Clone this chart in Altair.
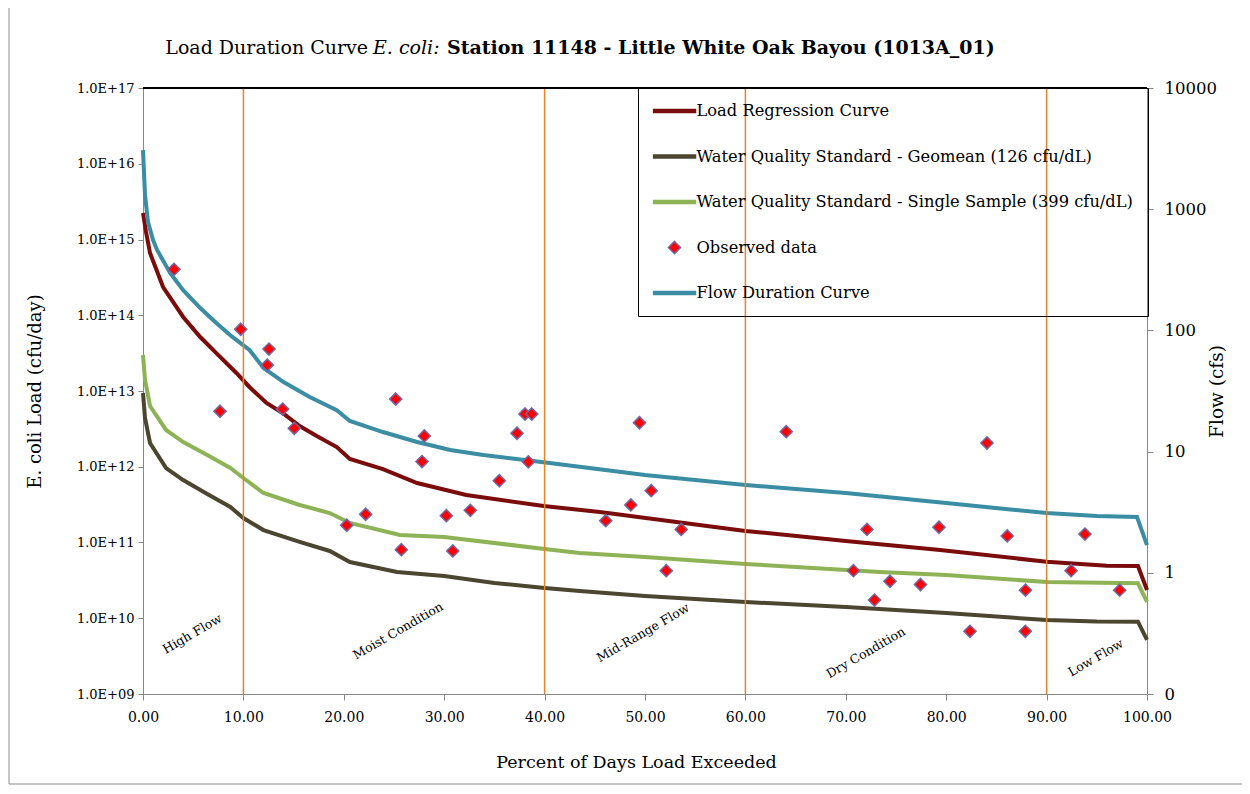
import altair as alt
import pandas as pd

# ---------------- data ----------------
SERIES = [
    "Load Regression Curve",
    "Water Quality Standard - Geomean (126 cfu/dL)",
    "Water Quality Standard - Single Sample (399 cfu/dL)",
    "Observed data",
    "Flow Duration Curve",
]

# Load regression curve (cfu/day)
pct_reg = [0, 0.3, 0.7, 2.0, 4.0, 5.7, 7.3, 9.3, 10.6, 12.3, 13.9, 15.6, 17.3, 19.3,
           20.6, 23.9, 27.3, 32.2, 39.9, 45.5, 60.0, 70.0, 79.4, 90.0, 96.0, 99.1, 100]
load_reg = [2.24e15, 1.26e15, 6.63e14, 2.36e14, 9.49e13, 5.16e13, 3.17e13, 1.73e13,
            1.13e13, 6.95e12, 5.13e12, 3.45e12, 2.55e12, 1.82e12, 1.27e12, 9.33e11,
            6.10e11, 4.24e11, 3.03e11, 2.53e11, 1.42e11, 1.05e11, 7.96e10, 5.57e10,
            4.94e10, 4.90e10, 2.36e10]

# Water quality standard - geomean (cfu/day)
pct_gm = [0, 0.2, 0.7, 2.3, 4.0, 6.4, 8.7, 10.0, 12.0, 15.6, 18.6, 20.6, 25.3, 30.0,
          35.0, 40.0, 43.5, 50.0, 60.0, 70.0, 80.0, 90.0, 95.0, 99.1, 100]
load_gm = [9.42e12, 4.40e12, 2.06e12, 9.62e11, 6.68e11, 4.37e11, 2.94e11, 2.10e11,
           1.46e11, 1.02e11, 7.73e10, 5.53e10, 4.08e10, 3.61e10, 2.92e10, 2.51e10,
           2.29e10, 1.97e10, 1.64e10, 1.41e10, 1.17e10, 9.48e9, 9.06e9, 9.02e9, 5.17e9]

# Water quality standard - single sample (cfu/day)
pct_ss = [0, 0.2, 0.7, 2.3, 4.0, 6.4, 8.7, 10.0, 12.0, 15.6, 18.6, 20.6, 25.6, 30.0,
          40.0, 43.5, 50.0, 60.0, 73.4, 80.0, 90.0, 99.1, 100]
load_ss = [2.99e13, 1.40e13, 6.34e12, 3.06e12, 2.12e12, 1.43e12, 9.62e11, 7.10e11,
           4.50e11, 3.13e11, 2.45e11, 1.81e11, 1.26e11, 1.18e11, 8.21e10, 7.27e10,
           6.44e10, 5.20e10, 4.08e10, 3.72e10, 3.01e10, 2.89e10, 1.64e10]

# Flow duration curve (cfs, right axis)
pct_flow = [0, 0.2, 0.5, 1.0, 1.4, 2.7, 4.0, 5.7, 7.3, 8.9, 10.6, 12.0, 14.0, 16.6,
            19.3, 20.6, 23.9, 27.3, 30.6, 33.9, 37.2, 40.5, 50, 60, 65, 70, 80, 90,
            95, 99, 100]
flow_cfs = [3077, 1309, 784, 557, 461, 298, 215, 153, 115, 88.3, 69.0, 49.0, 37.5,
            28.2, 22.0, 17.9, 14.5, 12.0, 10.3, 9.37, 8.68, 8.05, 6.41, 5.30, 4.91,
            4.55, 3.76, 3.11, 2.94, 2.89, 1.69]

# Observed data (cfu/day)
pct_obs = [3.09, 7.67, 9.73, 12.55, 12.38, 13.91, 15.07, 20.29, 22.18, 25.17, 25.73,
           27.79, 28.02, 30.21, 30.85, 32.60, 35.49, 37.25, 38.05, 38.72, 38.38, 46.09,
           48.59, 49.45, 50.62, 52.12, 53.61, 64.07, 70.76, 72.11, 72.86, 74.40, 77.44,
           79.28, 82.37, 84.06, 86.08, 87.90, 87.88, 92.44, 93.82, 97.28]
load_obs = [4.04e14, 5.40e12, 6.53e13, 3.58e13, 2.20e13, 5.78e12, 3.22e12, 1.69e11,
            2.36e11, 7.84e12, 8.04e10, 1.17e12, 2.55e12, 2.26e11, 7.73e10, 2.66e11,
            6.55e11, 2.77e12, 4.97e12, 4.97e12, 1.16e12, 1.94e11, 3.13e11, 3.81e12,
            4.83e11, 4.25e10, 1.49e11, 2.90e12, 4.25e10, 1.49e11, 1.74e10, 3.08e10,
            2.79e10, 1.59e11, 6.73e9, 2.06e12, 1.22e11, 2.35e10, 6.73e9, 4.25e10,
            1.29e11, 2.35e10]

zone_bounds = [10, 40, 60, 90]
zone_labels = ["High Flow", "Moist Condition", "Mid-Range Flow", "Dry Condition", "Low Flow"]
zone_pct = [4.9, 25.4, 49.8, 72.0, 94.9]
zone_load = [6.2e9, 6.8e9, 6.4e9, 3.5e9, 3.0e9]

x_ticks = [0, 10, 20, 30, 40, 50, 60, 70, 80, 90, 100]
load_ticks = [1e9, 1e10, 1e11, 1e12, 1e13, 1e14, 1e15, 1e16, 1e17]
flow_ticks = [0.1, 1, 10, 100, 1000, 10000]

# ---------------- styling ----------------
C_REG, C_GM, C_SS, C_OBS, C_FLOW = "#7B0C0C", "#4B4630", "#8DB356", "#FF0000", "#3A8DA3"
C_OBS_STROKE = "#6E6AA6"
C_ZONE = "#E3832B"
FONT = "DejaVu Serif"
LINE_SYM = "M-1,-0.07H1V0.07H-1Z"
DIAMOND = "M0,-0.29L0.29,0L0,0.29L-0.29,0Z"

W, H = 1004, 606

load_df = pd.concat([
    pd.DataFrame({"series": SERIES[0], "pct": pct_reg, "load": load_reg}),
    pd.DataFrame({"series": SERIES[1], "pct": pct_gm, "load": load_gm}),
    pd.DataFrame({"series": SERIES[2], "pct": pct_ss, "load": load_ss}),
], ignore_index=True)
flow_df = pd.DataFrame({"pct": pct_flow, "flow": flow_cfs})
obs_df = pd.DataFrame({"series": SERIES[3], "pct": pct_obs, "load": load_obs})
zone_df = pd.DataFrame({"pct": zone_bounds})
ztxt_df = pd.DataFrame({"label": zone_labels, "pct": zone_pct, "load": zone_load})
one = pd.DataFrame({"a": [0]})

xscale = alt.Scale(domain=[0, 100], nice=False, zero=False)
yload = alt.Scale(type="log", domain=[1e9, 1e17], nice=False)
yflow = alt.Scale(type="log", domain=[0.1, 10000], nice=False)

x_enc = alt.X("pct:Q", scale=xscale, axis=alt.Axis(
    values=x_ticks, format=".2f", title="Percent of Days Load Exceeded",
    labelFlush=False, labelOverlap=False, tickSize=6, labelPadding=10,
    labelFontSize=14, titleFontSize=17.5, titleX=493, titleY=68,
    titleBaseline="middle", titleAlign="center"))

lines = alt.Chart(load_df).mark_line(strokeWidth=4).encode(
    x=x_enc,
    y=alt.Y("load:Q", scale=yload, axis=alt.Axis(
        orient="left", values=load_ticks,
        labelExpr="'1.0E+' + (round(log(datum.value)/LN10) < 10 ? '0' : '') + round(log(datum.value)/LN10)",
        title="E. coli Load (cfu/day)", tickSize=5, labelPadding=4,
        labelFontSize=13, titleFontSize=18, titleX=-108, titleY=303,
        titleAngle=270, titleBaseline="middle", titleAlign="center",
        labelOverlap=False)),
    color=alt.Color("series:N", scale=alt.Scale(domain=SERIES[:3], range=[C_REG, C_GM, C_SS]),
                    legend=None),
)

flow = alt.Chart(flow_df).mark_line(strokeWidth=4, color=C_FLOW).encode(
    x="pct:Q",
    y=alt.Y("flow:Q", scale=yflow, axis=alt.Axis(
        orient="right", values=flow_ticks,
        labelExpr="datum.value < 1 ? '0' : format(datum.value, 'd')",
        title="Flow (cfs)", tickSize=6, labelPadding=11,
        labelFontSize=16.5, titleFontSize=18.5, titleX=69, titleY=303,
        titleAngle=270, titleBaseline="middle", titleAlign="center",
        labelOverlap=False)),
)

zones = alt.Chart(zone_df).mark_rule(color=C_ZONE, strokeWidth=1.5).encode(x="pct:Q")

legend = alt.Legend(orient="none", legendX=495, legendY=0, padding=14.5, rowPadding=28.5,
                    clipHeight=17, labelOffset=0, symbolSize=1764, symbolStrokeWidth=1.5,
                    labelFont=FONT, labelFontSize=16.3, labelColor="black",
                    strokeColor="black", labelLimit=700, symbolOpacity=1)

pts = alt.Chart(obs_df).mark_point(filled=True, size=1764, strokeWidth=1.5, opacity=1).encode(
    x="pct:Q",
    y=alt.Y("load:Q", scale=yload, axis=None),
    fill=alt.Fill("series:N", title=None, legend=legend, scale=alt.Scale(
        domain=SERIES, range=[C_REG, C_GM, C_SS, C_OBS, C_FLOW])),
    stroke=alt.Stroke("series:N", title=None, legend=legend, scale=alt.Scale(
        domain=SERIES, range=[C_REG, C_GM, C_SS, C_OBS_STROKE, C_FLOW])),
    shape=alt.Shape("series:N", title=None, legend=legend, scale=alt.Scale(
        domain=SERIES, range=[LINE_SYM, LINE_SYM, LINE_SYM, DIAMOND, LINE_SYM])),
)

ztxt = alt.Chart(ztxt_df).mark_text(angle=330, font=FONT, fontSize=12.5, color="black").encode(
    x="pct:Q",
    y=alt.Y("load:Q", scale=yload, axis=None),
    text="label:N",
)

top = alt.Chart(one).mark_rule(color="black", strokeWidth=2).encode(
    x=alt.value(0), x2=alt.value(W), y=alt.value(0))

# chart-area frame (left and bottom edges visible in the reference)
frame_left = alt.Chart(one).mark_rule(color="#8C8C8C", strokeWidth=1).encode(
    x=alt.value(-134), y=alt.value(-90), y2=alt.value(H + 90))
frame_bottom = alt.Chart(one).mark_rule(color="#8C8C8C", strokeWidth=1).encode(
    x=alt.value(-134), x2=alt.value(W + 120), y=alt.value(H + 90))

t1 = alt.Chart(one).mark_text(text="Load Duration Curve", align="right", baseline="alphabetic",
                              font=FONT, fontSize=19, color="black").encode(
    x=alt.value(225), y=alt.value(-34))
t2 = alt.Chart(one).mark_text(text="E. coli:", align="left", baseline="alphabetic",
                              font=FONT, fontSize=19, fontStyle="italic", color="black").encode(
    x=alt.value(230), y=alt.value(-34))
t3 = alt.Chart(one).mark_text(text="Station 11148 - Little White Oak Bayou (1013A_01)",
                              align="left", baseline="alphabetic", font=FONT, fontSize=19,
                              fontWeight="bold", color="black").encode(
    x=alt.value(304), y=alt.value(-34))

chart = alt.layer(lines, flow, zones, pts, ztxt, top, frame_left, frame_bottom,
                  t1, t2, t3).resolve_scale(
    y="independent"
).properties(
    width=W, height=H,
    padding={"left": 135, "top": 80, "right": 95, "bottom": 92},
    autosize=alt.AutoSizeParams(type="none"),
).configure_view(stroke=None).configure_axis(
    grid=False, domainColor="#878787", tickColor="#878787", labelColor="black",
    titleColor="black", labelFont=FONT, titleFont=FONT, titleFontWeight="normal",
)

chart.save("out.html", embed_options={"renderer": "svg", "actions": False})
